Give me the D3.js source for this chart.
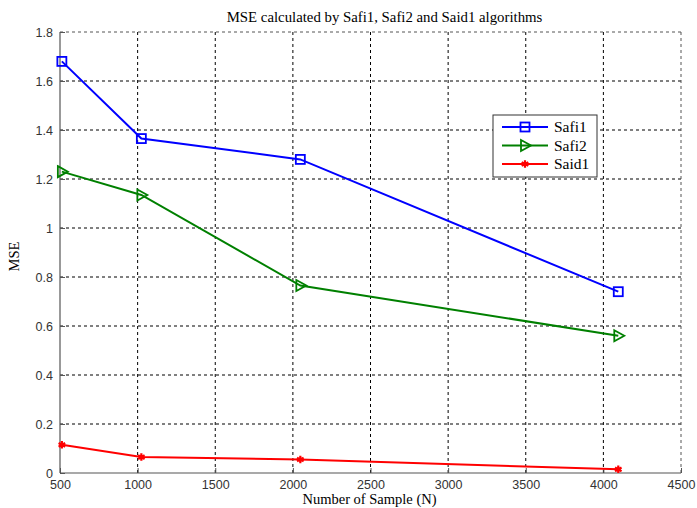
<!DOCTYPE html>
<html>
<head>
<meta charset="utf-8">
<script src="https://cdnjs.cloudflare.com/ajax/libs/d3/7.8.5/d3.min.js"></script>
<style>
  body { margin: 0; background: #fff; }
  svg { display: block; }
</style>
</head>
<body>
<svg width="697" height="508"></svg>
<script>
// data
var samples = [512, 1024, 2048, 4096];
var safi1 = [1.68, 1.365, 1.28, 0.74];
var safi2 = [1.23, 1.135, 0.765, 0.56];
var said1 = [0.115, 0.065, 0.055, 0.015];
var xTicks = [500, 1000, 1500, 2000, 2500, 3000, 3500, 4000, 4500];
var yTicks = [0, 0.2, 0.4, 0.6, 0.8, 1, 1.2, 1.4, 1.6, 1.8];

var series = [
  {name: 'Safi1', values: safi1, color: '#0000ff', marker: 'square'},
  {name: 'Safi2', values: safi2, color: '#008000', marker: 'triangle'},
  {name: 'Said1', values: said1, color: '#ff0000', marker: 'star'}
];

var svg = d3.select('svg');
var margin = {top: 32, right: 16, bottom: 35, left: 60};
var width = 697 - margin.left - margin.right;
var height = 508 - margin.top - margin.bottom;

var g = svg.append('g')
    .attr('transform', 'translate(' + margin.left + ',' + margin.top + ')');

var x = d3.scaleLinear().domain([500, 4500]).range([0, width]);
var y = d3.scaleLinear().domain([0, 1.8]).range([height, 0]);

// grid
g.selectAll('.vgrid')
    .data(xTicks.slice(1, -1))
    .enter().append('line')
    .attr('x1', function(d){ return x(d); })
    .attr('x2', function(d){ return x(d); })
    .attr('y1', 0).attr('y2', height)
    .attr('stroke', '#000').attr('stroke-width', 1)
    .attr('stroke-dasharray', '3,3');
g.selectAll('.hgrid')
    .data(yTicks.slice(1, -1))
    .enter().append('line')
    .attr('y1', function(d){ return y(d); })
    .attr('y2', function(d){ return y(d); })
    .attr('x1', 0).attr('x2', width)
    .attr('stroke', '#000').attr('stroke-width', 1)
    .attr('stroke-dasharray', '3,3');

// top and right dotted borders
g.append('line').attr('x1', 0).attr('x2', width).attr('y1', 0).attr('y2', 0)
    .attr('stroke', '#555').attr('stroke-dasharray', '3,3');
g.append('line').attr('x1', width).attr('x2', width).attr('y1', 0).attr('y2', height)
    .attr('stroke', '#555').attr('stroke-dasharray', '3,3');

// axes
var xAxis = d3.axisBottom(x).tickValues(xTicks).tickSize(-5).tickPadding(9)
    .tickFormat(d3.format('d'));
var yAxis = d3.axisLeft(y).tickValues(yTicks).tickSize(-5).tickPadding(7)
    .tickFormat(function(d){ return d3.format('')(+d.toFixed(1)); });

var gx = g.append('g').attr('transform', 'translate(0,' + height + ')').call(xAxis);
var gy = g.append('g').call(yAxis);
[gx, gy].forEach(function(a){
  a.select('.domain').attr('stroke', '#555').attr('stroke-width', 1.2);
  a.selectAll('.tick line').attr('stroke', '#555');
  a.selectAll('text').attr('font-family', 'Liberation Sans, Arial, sans-serif')
    .attr('font-size', 12.5).attr('fill', '#333');
});
gx.selectAll('text').attr('dy', '0.55em');
gy.selectAll('text').attr('dy', '0.32em');
gy.select('.domain').attr('d', 'M0,' + height + 'V0');
gx.select('.domain').attr('d', 'M0,0H' + width);

// lines
var line = d3.line()
    .x(function(d, i){ return x(samples[i]); })
    .y(function(d){ return y(d); });

function drawMarker(sel, type, color) {
  if (type === 'square') {
    sel.append('rect')
      .attr('x', -4.5).attr('y', -4.5).attr('width', 9).attr('height', 9)
      .attr('fill', 'none').attr('stroke', color).attr('stroke-width', 1.8);
  } else if (type === 'triangle') {
    sel.append('path')
      .attr('d', 'M-4,-5.5L6,0L-4,5.5Z')
      .attr('fill', 'none').attr('stroke', color).attr('stroke-width', 1.8);
  } else {
    sel.append('path')
      .attr('d', d3.symbol().type(d3.symbolAsterisk).size(40)())
      .attr('fill', 'none').attr('stroke', color).attr('stroke-width', 2.2);
    sel.append('circle').attr('r', 2).attr('fill', color);
  }
}

series.forEach(function(s){
  g.append('path')
    .datum(s.values)
    .attr('d', line)
    .attr('fill', 'none')
    .attr('stroke', s.color)
    .attr('stroke-width', 2);
  g.selectAll('.m-' + s.name)
    .data(s.values)
    .enter().append('g')
    .attr('transform', function(d, i){
      return 'translate(' + x(samples[i]) + ',' + y(d) + ')';
    })
    .each(function(){ drawMarker(d3.select(this), s.marker, s.color); });
});

// legend
var lg = svg.append('g').attr('transform', 'translate(493,115)');
lg.append('rect').attr('width', 104).attr('height', 62)
    .attr('fill', '#fff').attr('stroke', '#333').attr('stroke-width', 1);
series.forEach(function(s, i){
  var yy = 12 + i * 18.5;
  lg.append('line').attr('x1', 9).attr('x2', 55).attr('y1', yy).attr('y2', yy)
    .attr('stroke', s.color).attr('stroke-width', 2);
  var m = lg.append('g').attr('transform', 'translate(32,' + yy + ')');
  drawMarker(m, s.marker, s.color);
  lg.append('text').attr('x', 61).attr('y', yy).attr('dy', '0.35em')
    .attr('font-family', 'Liberation Serif, Times New Roman, serif')
    .attr('font-size', 15.5).attr('fill', '#000').text(s.name);
});

// title and labels
svg.append('text')
    .attr('x', margin.left + width / 2 + 14).attr('y', 22)
    .attr('text-anchor', 'middle')
    .attr('font-family', 'Liberation Serif, Times New Roman, serif')
    .attr('font-size', 14.8).text('MSE calculated by Safi1, Safi2 and Said1 algorithms');
svg.append('text')
    .attr('x', margin.left + width / 2 - 1).attr('y', 504)
    .attr('text-anchor', 'middle')
    .attr('font-family', 'Liberation Serif, Times New Roman, serif')
    .attr('font-size', 14.5).text('Number of Sample (N)');
svg.append('text')
    .attr('transform', 'translate(19,' + (margin.top + height / 2 + 4) + ') rotate(-90)')
    .attr('text-anchor', 'middle')
    .attr('font-family', 'Liberation Serif, Times New Roman, serif')
    .attr('font-size', 14.5).text('MSE');
</script>
</body>
</html>
